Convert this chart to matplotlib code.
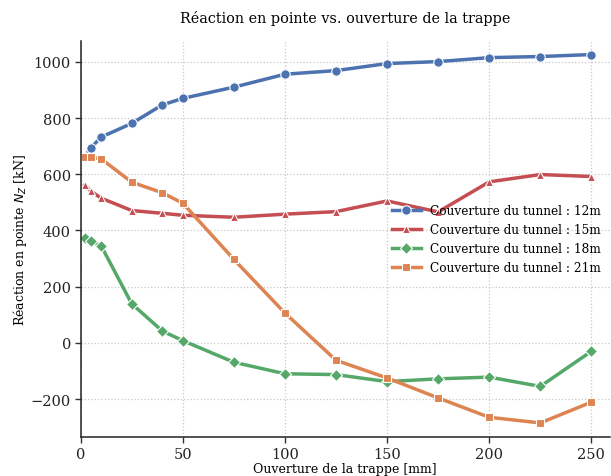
import matplotlib
matplotlib.use("Agg")
import matplotlib.pyplot as plt

x = [2, 5, 10, 25, 40, 50, 75, 100, 125, 150, 175, 200, 225, 250]
c12 = [662, 694, 732, 781, 847, 870, 910, 956, 969, 994, 1001, 1015, 1019, 1026]
c15 = [562, 540, 515, 471, 461, 454, 447, 458, 467, 505, 466, 573, 599, 592]
c18 = [374, 361, 346, 139, 42, 8, -69, -110, -113, -138, -128, -122, -155, -30]
c21 = [660, 660, 655, 572, 534, 497, 297, 106, -62, -125, -196, -265, -285, -211]
labels = ["Couverture du tunnel : 12m", "Couverture du tunnel : 15m",
          "Couverture du tunnel : 18m", "Couverture du tunnel : 21m"]

plt.rcParams['font.family'] = ['DejaVu Serif']
fig = plt.figure(figsize=(6.11, 4.77), dpi=100)
ax = fig.add_axes([0.132, 0.0818, 0.866, 0.830])

styles = [("#4C72B0", "o", 6.8), ("#C44E52", "^", 6.3), ("#55A868", "D", 5.8), ("#DD8452", "s", 6.3)]
for ys, lab, (col, mk, ms) in zip([c12, c15, c18, c21], labels, styles):
    ax.plot(x, ys, color=col, marker=mk, markersize=ms, lw=2.5,
            markeredgecolor="white", markeredgewidth=0.8, label=lab)

ax.set_xlim(0, 259)
ax.set_ylim(-335, 1074)
ax.set_xticks([0, 50, 100, 150, 200, 250])
ax.set_yticks([-200, 0, 200, 400, 600, 800, 1000])
ax.tick_params(labelsize=10.5, direction='out', length=4, width=1, colors='#333333', pad=3)
ax.tick_params(labelcolor='#222222')
ax.grid(True, linestyle=':', color='#c8c8c8', linewidth=0.9)
for s in ['top', 'right']:
    ax.spines[s].set_visible(False)
for s in ['left', 'bottom']:
    ax.spines[s].set_color('#222222')
    ax.spines[s].set_linewidth(1.1)

ax.set_xlabel("Ouverture de la trappe [mm]", fontsize=9, labelpad=1)
ax.set_ylabel("Réaction en pointe $N_Z$ [kN]", fontsize=9, labelpad=1)
ax.set_title("Réaction en pointe vs. ouverture de la trappe", fontsize=10.4, pad=14)
ax.legend(loc='center right', frameon=False, fontsize=8.7, handlelength=2.4,
          borderaxespad=0.3)

fig.savefig("out.png", dpi=100)
